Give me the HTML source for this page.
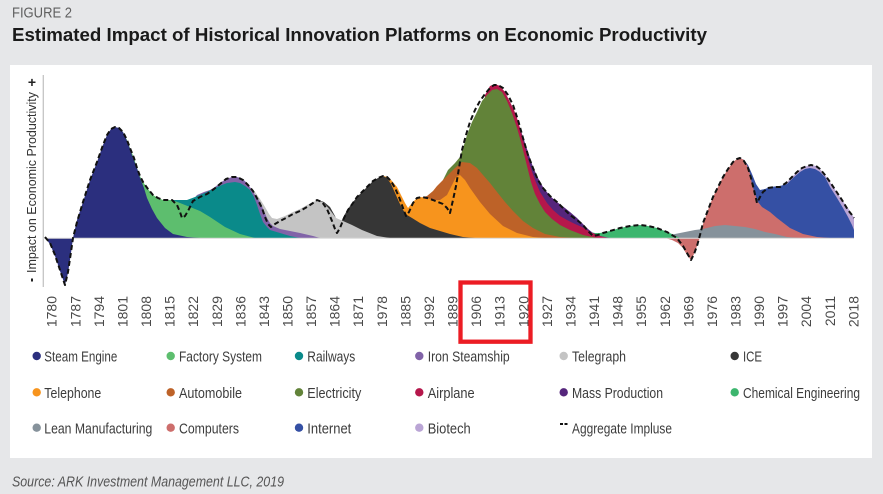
<!DOCTYPE html>
<html><head><meta charset="utf-8"><style>
html,body{margin:0;padding:0;background:#e6e7e9;}
svg{display:block;}
text{font-family:"Liberation Sans",Arial,sans-serif;}
</style></head><body>
<svg width="883" height="494" viewBox="0 0 883 494" xmlns="http://www.w3.org/2000/svg">
<rect x="0" y="0" width="883" height="494" fill="#e6e7e9"/>
<text x="12" y="17.5" font-size="14.5" fill="#5f5f5f" textLength="60" lengthAdjust="spacingAndGlyphs">FIGURE 2</text>
<text x="12" y="41" font-size="18" font-weight="bold" fill="#1a1a1a" textLength="695" lengthAdjust="spacingAndGlyphs">Estimated Impact of Historical Innovation Platforms on Economic Productivity</text>
<rect x="10" y="65" width="862" height="393" fill="#ffffff"/>

<!-- y axis -->
<line x1="43.3" y1="75" x2="43.3" y2="287" stroke="#c4c4c4" stroke-width="1.3"/>
<text x="36" y="273" font-size="13" fill="#333" textLength="181" lengthAdjust="spacingAndGlyphs" transform="rotate(-90 36 273)">Impact on Economic Productivity</text>
<text x="32" y="87" font-size="14" font-weight="bold" fill="#222" text-anchor="middle">+</text>
<rect x="31" y="278.5" width="2" height="3" fill="#222"/>

<!-- fills (drawn top of stack first) -->
<polygon fill="#baa5d5" points="775,238 780,187 786,183 792,177 797,172 802,168 807,166 811,165 816,166 820,169 825,175 830,182 836,191 842,200 848,208 852,214 854,218 854,238"/>
<polygon fill="#3550a4" points="738,238 740,158 744,160 748,165 752,174 756,184 760,190 765,189 770,187 780,186 787,184 793,178 800,172 805,169 810,168 815,169 820,172 825,177 830,187 837,198 843,208 848,217 852,225 854,230 854,238"/>
<polygon fill="#cd6e6c" points="665,238 672,240 678,243 683,248 687,255 691,260 694,254 697,246 700,237 703,224 708,210 713,197 718,187 723,177 728,169 733,162 737,159 740,158 744,160 747,165 750,174 752,184 755,194 758,202 762,207 770,212 777,218 790,228 803,234 817,237 830,238"/>
<polygon fill="#86929b" points="655,238 665,236 675,234 685,232 695,230 703,229 715,226 725,225 735,226 745,227 755,229 765,232 775,234 787,237 800,238"/>
<polygon fill="#3cb66e" points="572,238 575,234 580,231 585,230 590,232 595,233 600,233 610,231 620,228 630,226 640,225 648,226 657,228 665,231 672,234 680,238"/>
<polygon fill="#55267c" points="497,238 500,90 505,95 510,104 515,116 520,128 523,137 527,149 530,158 533,167 538,178 543,187 550,196 557,202 565,208 570,212 577,218 583,224 588,229 593,233 600,236 610,238"/>
<polygon fill="#b5174b" points="483,238 485,95 490,86 495,84 500,86 505,92 510,102 514,110 517,118 520,128 523,140 527,155 530,166 535,180 540,192 547,203 553,210 560,216 567,220 575,224 582,227 590,232 600,236 608,238"/>
<polygon fill="#628339" points="437,238 437,195 443,180 448,170 455,163 460,157 464,145 467,135 472,122 477,112 482,101 487,95 492,90 497,89 502,92 507,101 512,113 517,128 521,142 525,158 528,170 531,182 535,194 540,204 545,212 552,219 560,225 570,230 583,235 597,238"/>
<polygon fill="#bd6228" points="418,238 420,198 427,196 433,191 437,186 442,181 447,176 455,168 462,162 470,163 477,168 483,175 490,183 497,192 505,202 513,211 523,221 533,228 545,234 560,237 575,238"/>
<polygon fill="#f7941d" points="383,238 383,176 388,177 392,181 397,187 401,195 405,203 408,208 412,203 416,199 420,197 427,198 433,200 440,200 447,195 452,185 456,177 460,175 465,180 470,188 480,202 490,214 503,226 517,233 533,237 545,238"/>
<polygon fill="#363636" points="318,238 318,200 324,202 330,207 335,216 338,224 341,222 345,214 350,206 357,197 363,191 368,186 373,181 378,178 383,176 387,178 391,184 395,193 399,202 403,210 407,215 412,218 420,223 430,228 440,231 450,234 463,237 475,238"/>
<polygon fill="#c4c4c4" points="250,238 250,188 255,192 260,199 265,207 269,214 272,218 277,219 285,216 293,212 300,209 307,205 313,202 318,200 324,203 330,210 336,218 343,221 352,225 362,230 377,236 390,238"/>
<polygon fill="#8163a8" points="190,238 193,200 197,195 204,192 210,190 215,187 220,183 226,179 232,177 237,177 241,178 245,181 250,187 255,195 260,202 264,211 267,218 270,223 273,226 280,229 290,231 300,233 313,236 320,238"/>
<polygon fill="#0a8a8a" points="172,238 172,200 187,200 195,197 207,192 217,187 227,183 235,182 240,183 245,186 250,190 254,197 257,205 260,214 263,222 267,227 270,230 280,233 290,236 300,238"/>
<polygon fill="#5dbe6e" points="115,238 115,128 119,128 123,132 127,140 130,148 134,158 137,168 140,176 143,182 148,189 153,195 158,198 163,200 172,200 180,203 190,207 200,211 210,217 225,227 240,234 255,238"/>
<polygon fill="#2b2f7e" points="45,238 50,244 55,256 60,271 65,285 68,273 71,253 73,238 77,220 83,202 90,180 97,162 103,145 107,135 111,129 115,127 119,128 123,132 128,143 133,158 137,168 140,178 144,188 147,198 152,209 157,218 165,228 173,234 187,237 200,238"/>

<line x1="43" y1="238.3" x2="854" y2="238.3" stroke="#d9d9d9" stroke-width="1"/>

<!-- aggregate -->
<polyline fill="none" stroke="#111" stroke-width="2" stroke-dasharray="5 3" stroke-linejoin="round" points="45,237 50,243 55,255 60,270 65,285 68,272 71,252 73,238 77,222 83,202 90,180 97,162 103,145 107,135 111,129 115,127 119,128 123,132 127,140 130,148 134,158 137,168 140,176 143,182 148,189 153,195 158,198 163,200 172,200 177,205 180,212 182,218 185,216 188,211 193,201 200,197 207,194 214,189 220,184 226,179 232,177 237,177 243,180 248,185 253,191 258,200 262,208 265,217 268,224 271,227 275,224 280,221 286,218 293,214 300,211 307,207 313,203 317,200 322,202 327,209 332,221 335,229 337,233 340,228 344,218 348,210 353,203 357,197 363,191 368,186 373,181 378,178 383,176 387,177 391,181 395,188 399,197 403,208 406,216 409,212 413,203 417,198 422,197 427,198 433,200 438,202 443,204 447,208 450,213 453,200 456,186 459,168 462,150 466,135 470,122 475,110 480,101 485,94 490,88 494,85 498,85 503,88 508,95 513,105 518,120 523,138 528,155 533,168 538,180 543,188 550,196 557,202 563,208 570,215 577,220 583,225 588,231 593,236 598,235 603,233 610,231 620,228 630,226 640,225 648,226 657,228 667,232 677,238 683,246 687,253 691,260 694,254 697,246 700,235 703,223 708,210 713,197 718,187 723,177 728,169 733,162 737,159 740,158 744,161 748,168 751,178 754,190 757,203 760,197 763,192 768,188 775,187 780,187 786,183 792,177 797,172 802,168 807,166 811,165 816,166 820,169 825,175 830,182 836,191 842,200 848,210 852,215 854,218"/>

<!-- x labels -->
<g font-size="14" fill="#4a4a4a" text-anchor="end">
<text x="56.7" y="296" transform="rotate(-90 56.7 296)">1780</text>
<text x="80.3" y="296" transform="rotate(-90 80.3 296)">1787</text>
<text x="103.9" y="296" transform="rotate(-90 103.9 296)">1794</text>
<text x="127.4" y="296" transform="rotate(-90 127.4 296)">1801</text>
<text x="151.0" y="296" transform="rotate(-90 151.0 296)">1808</text>
<text x="174.6" y="296" transform="rotate(-90 174.6 296)">1815</text>
<text x="198.2" y="296" transform="rotate(-90 198.2 296)">1822</text>
<text x="221.8" y="296" transform="rotate(-90 221.8 296)">1829</text>
<text x="245.3" y="296" transform="rotate(-90 245.3 296)">1836</text>
<text x="268.9" y="296" transform="rotate(-90 268.9 296)">1843</text>
<text x="292.5" y="296" transform="rotate(-90 292.5 296)">1850</text>
<text x="316.1" y="296" transform="rotate(-90 316.1 296)">1857</text>
<text x="339.7" y="296" transform="rotate(-90 339.7 296)">1864</text>
<text x="363.2" y="296" transform="rotate(-90 363.2 296)">1871</text>
<text x="386.8" y="296" transform="rotate(-90 386.8 296)">1978</text>
<text x="410.4" y="296" transform="rotate(-90 410.4 296)">1885</text>
<text x="434.0" y="296" transform="rotate(-90 434.0 296)">1992</text>
<text x="457.6" y="296" transform="rotate(-90 457.6 296)">1889</text>
<text x="481.1" y="296" transform="rotate(-90 481.1 296)">1906</text>
<text x="504.7" y="296" transform="rotate(-90 504.7 296)">1913</text>
<text x="528.3" y="296" transform="rotate(-90 528.3 296)">1920</text>
<text x="551.9" y="296" transform="rotate(-90 551.9 296)">1927</text>
<text x="575.4" y="296" transform="rotate(-90 575.4 296)">1934</text>
<text x="599.0" y="296" transform="rotate(-90 599.0 296)">1941</text>
<text x="622.6" y="296" transform="rotate(-90 622.6 296)">1948</text>
<text x="646.2" y="296" transform="rotate(-90 646.2 296)">1955</text>
<text x="669.8" y="296" transform="rotate(-90 669.8 296)">1962</text>
<text x="693.3" y="296" transform="rotate(-90 693.3 296)">1969</text>
<text x="716.9" y="296" transform="rotate(-90 716.9 296)">1976</text>
<text x="740.5" y="296" transform="rotate(-90 740.5 296)">1983</text>
<text x="764.1" y="296" transform="rotate(-90 764.1 296)">1990</text>
<text x="787.7" y="296" transform="rotate(-90 787.7 296)">1997</text>
<text x="811.2" y="296" transform="rotate(-90 811.2 296)">2004</text>
<text x="834.8" y="296" transform="rotate(-90 834.8 296)">2011</text>
<text x="858.4" y="296" transform="rotate(-90 858.4 296)">2018</text>
</g>

<rect x="460.5" y="282.5" width="70" height="59.2" fill="none" stroke="#ec1c24" stroke-width="4.3"/>

<!-- legend -->
<g font-size="15" fill="#3c3c3c">
<circle cx="36.7" cy="356" r="4.2" fill="#2b2f7e"/><text x="44.3" y="361.5" textLength="73" lengthAdjust="spacingAndGlyphs">Steam Engine</text>
<circle cx="170.7" cy="356" r="4.2" fill="#5dbe6e"/><text x="179" y="361.5" textLength="83" lengthAdjust="spacingAndGlyphs">Factory System</text>
<circle cx="299" cy="356" r="4.2" fill="#0a8a8a"/><text x="307.3" y="361.5" textLength="48" lengthAdjust="spacingAndGlyphs">Railways</text>
<circle cx="419.3" cy="356" r="4.2" fill="#8163a8"/><text x="427.7" y="361.5" textLength="82" lengthAdjust="spacingAndGlyphs">Iron Steamship</text>
<circle cx="563.7" cy="356" r="4.2" fill="#c4c4c4"/><text x="572" y="361.5" textLength="54" lengthAdjust="spacingAndGlyphs">Telegraph</text>
<circle cx="734.7" cy="356" r="4.2" fill="#363636"/><text x="743" y="361.5" textLength="19" lengthAdjust="spacingAndGlyphs">ICE</text>

<circle cx="36.7" cy="392.3" r="4.2" fill="#f7941d"/><text x="44.3" y="398" textLength="57" lengthAdjust="spacingAndGlyphs">Telephone</text>
<circle cx="170.7" cy="392.3" r="4.2" fill="#bd6228"/><text x="179" y="398" textLength="63" lengthAdjust="spacingAndGlyphs">Automobile</text>
<circle cx="299" cy="392.3" r="4.2" fill="#628339"/><text x="307.3" y="398" textLength="54" lengthAdjust="spacingAndGlyphs">Electricity</text>
<circle cx="419.3" cy="392.3" r="4.2" fill="#b5174b"/><text x="427.7" y="398" textLength="47" lengthAdjust="spacingAndGlyphs">Airplane</text>
<circle cx="563.7" cy="392.3" r="4.2" fill="#55267c"/><text x="572" y="398" textLength="91" lengthAdjust="spacingAndGlyphs">Mass Production</text>
<circle cx="734.7" cy="392.3" r="4.2" fill="#3cb66e"/><text x="743" y="398" textLength="117" lengthAdjust="spacingAndGlyphs">Chemical Engineering</text>

<circle cx="36.7" cy="427.7" r="4.2" fill="#86929b"/><text x="44.3" y="433.5" textLength="108" lengthAdjust="spacingAndGlyphs">Lean Manufacturing</text>
<circle cx="170.7" cy="427.7" r="4.2" fill="#cd6e6c"/><text x="179" y="433.5" textLength="60" lengthAdjust="spacingAndGlyphs">Computers</text>
<circle cx="299" cy="427.7" r="4.2" fill="#3550a4"/><text x="307.3" y="433.5" textLength="44" lengthAdjust="spacingAndGlyphs">Internet</text>
<circle cx="419.3" cy="427.7" r="4.2" fill="#baa5d5"/><text x="427.7" y="433.5" textLength="43" lengthAdjust="spacingAndGlyphs">Biotech</text>
<line x1="560" y1="424" x2="567.5" y2="424" stroke="#111" stroke-width="2" stroke-dasharray="3 1.5"/><text x="572" y="433.5" textLength="100" lengthAdjust="spacingAndGlyphs">Aggregate Impluse</text>
</g>

<text x="12" y="486.5" font-size="15" font-style="italic" fill="#555" textLength="272" lengthAdjust="spacingAndGlyphs">Source: ARK Investment Management LLC, 2019</text>
</svg>
</body></html>
